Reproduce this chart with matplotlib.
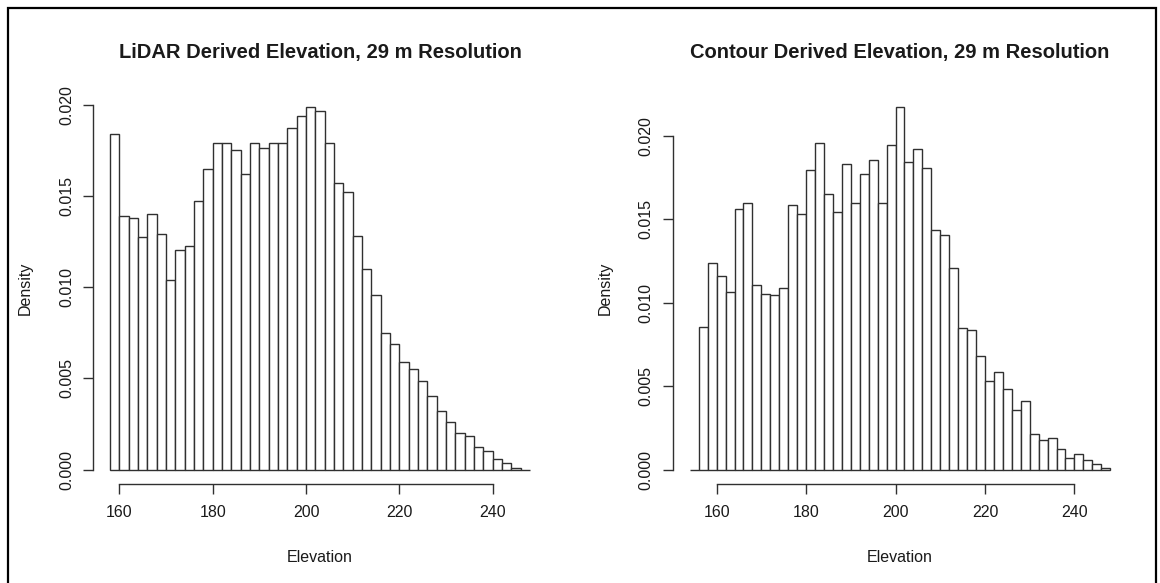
import matplotlib
matplotlib.use("Agg")
import matplotlib.pyplot as plt
from matplotlib.patches import Rectangle
import numpy as np

plt.rcParams['font.family'] = ['Liberation Sans', 'DejaVu Sans']

# ---------------- data ----------------
lidar_title = "LiDAR Derived Elevation, 29 m Resolution"
contour_title = "Contour Derived Elevation, 29 m Resolution"
x_label = "Elevation"
y_label = "Density"

bin_width = 2

# LiDAR histogram: bins start at 158 (last bin empty)
lidar_bin_start = 158
lidar_density = [
    0.01843, 0.01392, 0.01378, 0.01274, 0.01405, 0.01290, 0.01038, 0.01206,
    0.01226, 0.01475, 0.01649, 0.01793, 0.01790, 0.01753, 0.01621, 0.01793,
    0.01764, 0.01793, 0.01793, 0.01876, 0.01941, 0.01987, 0.01969, 0.01790,
    0.01574, 0.01521, 0.01283, 0.01102, 0.00957, 0.00747, 0.00690, 0.00591,
    0.00551, 0.00487, 0.00406, 0.00322, 0.00260, 0.00203, 0.00183, 0.00121,
    0.00102, 0.00057, 0.00038, 0.00009, 0.0,
]

# Contour histogram: bins start at 154 (first bin empty)
contour_bin_start = 154
contour_density = [
    0.0, 0.00856, 0.01238, 0.01160, 0.01068, 0.01562, 0.01598, 0.01104,
    0.01056, 0.01048, 0.01090, 0.01586, 0.01530, 0.01794, 0.01956, 0.01650,
    0.01546, 0.01834, 0.01598, 0.01770, 0.01854, 0.01598, 0.01944, 0.02172,
    0.01842, 0.01922, 0.01808, 0.01438, 0.01408, 0.01210, 0.00850, 0.00838,
    0.00682, 0.00530, 0.00588, 0.00486, 0.00360, 0.00410, 0.00216, 0.00176,
    0.00190, 0.00126, 0.00072, 0.00094, 0.00056, 0.00036, 0.00012,
]

x_ticks = [160, 180, 200, 220, 240]
y_ticks = [0.000, 0.005, 0.010, 0.015, 0.020]
y_tick_labels = ["0.000", "0.005", "0.010", "0.015", "0.020"]

# ---------------- layout ----------------
W, H, DPI = 1160, 583, 100
fig = plt.figure(figsize=(W / DPI, H / DPI), dpi=DPI)
fig.patch.set_facecolor("white")

PX = 72.0 / DPI  # points per pixel
TXT = "#1a1a1a"
LINE = "#303030"

def px_axes(x0, x1, ytop, ybot):
    return fig.add_axes([x0 / W, 1 - ybot / H, (x1 - x0) / W, (ybot - ytop) / H])

def draw_hist(ax, start, dens, title):
    dens = np.asarray(dens)
    edges = start + bin_width * np.arange(len(dens) + 1)
    ax.bar(edges[:-1], dens, width=bin_width, align="edge",
           facecolor="white", edgecolor=LINE, linewidth=1.0)
    rng = edges[-1] - edges[0]
    ax.set_xlim(edges[0] - 0.04 * rng, edges[-1] + 0.04 * rng)
    m = dens.max()
    ax.set_ylim(-0.04 * m, 1.04 * m)

    for s in ("top", "right"):
        ax.spines[s].set_visible(False)
    for s in ("left", "bottom"):
        ax.spines[s].set_color(LINE)
        ax.spines[s].set_linewidth(1.0)
    ax.spines["left"].set_bounds(y_ticks[0], y_ticks[-1])
    ax.spines["bottom"].set_bounds(x_ticks[0], x_ticks[-1])

    ax.set_xticks(x_ticks)
    ax.set_yticks(y_ticks)
    ax.set_yticklabels(y_tick_labels)
    ax.tick_params(axis="both", direction="out", length=9.6 * PX, width=1.0,
                   color=LINE, labelsize=16 * PX, labelcolor=TXT)
    ax.tick_params(axis="x", pad=8)
    ax.tick_params(axis="y", pad=7, labelrotation=90)
    for lab in ax.get_yticklabels():
        lab.set_verticalalignment("center")
        lab.set_horizontalalignment("right")

    ax.set_xlabel(x_label, fontsize=16 * PX, color=TXT)
    ax.xaxis.set_label_coords(0.5, -(557 - 484) / 391.0)
    ax.xaxis.label.set_verticalalignment("center")
    ax.set_ylabel(y_label, fontsize=16 * PX, color=TXT)
    ax.yaxis.set_label_coords(-68 / ax.bbox.width, 0.5)
    ax.yaxis.label.set_verticalalignment("center")

    ax.text(0.5, 1 + 41 / 391.0, title, transform=ax.transAxes,
            ha="center", va="center", fontsize=14.5, fontweight="bold", color=TXT)

ax1 = px_axes(93.2, 546.8, 93, 484)
draw_hist(ax1, lidar_bin_start, lidar_density, lidar_title)

ax2 = px_axes(673, 1127, 93, 484)
draw_hist(ax2, contour_bin_start, contour_density, contour_title)

# outer frame
fig.patches.append(Rectangle((8 / W, -0.05), (1156 - 8) / W, 1.05 - 8 / H,
                             transform=fig.transFigure, fill=False,
                             edgecolor="black", linewidth=1.6))

fig.savefig("out.png", dpi=DPI)
